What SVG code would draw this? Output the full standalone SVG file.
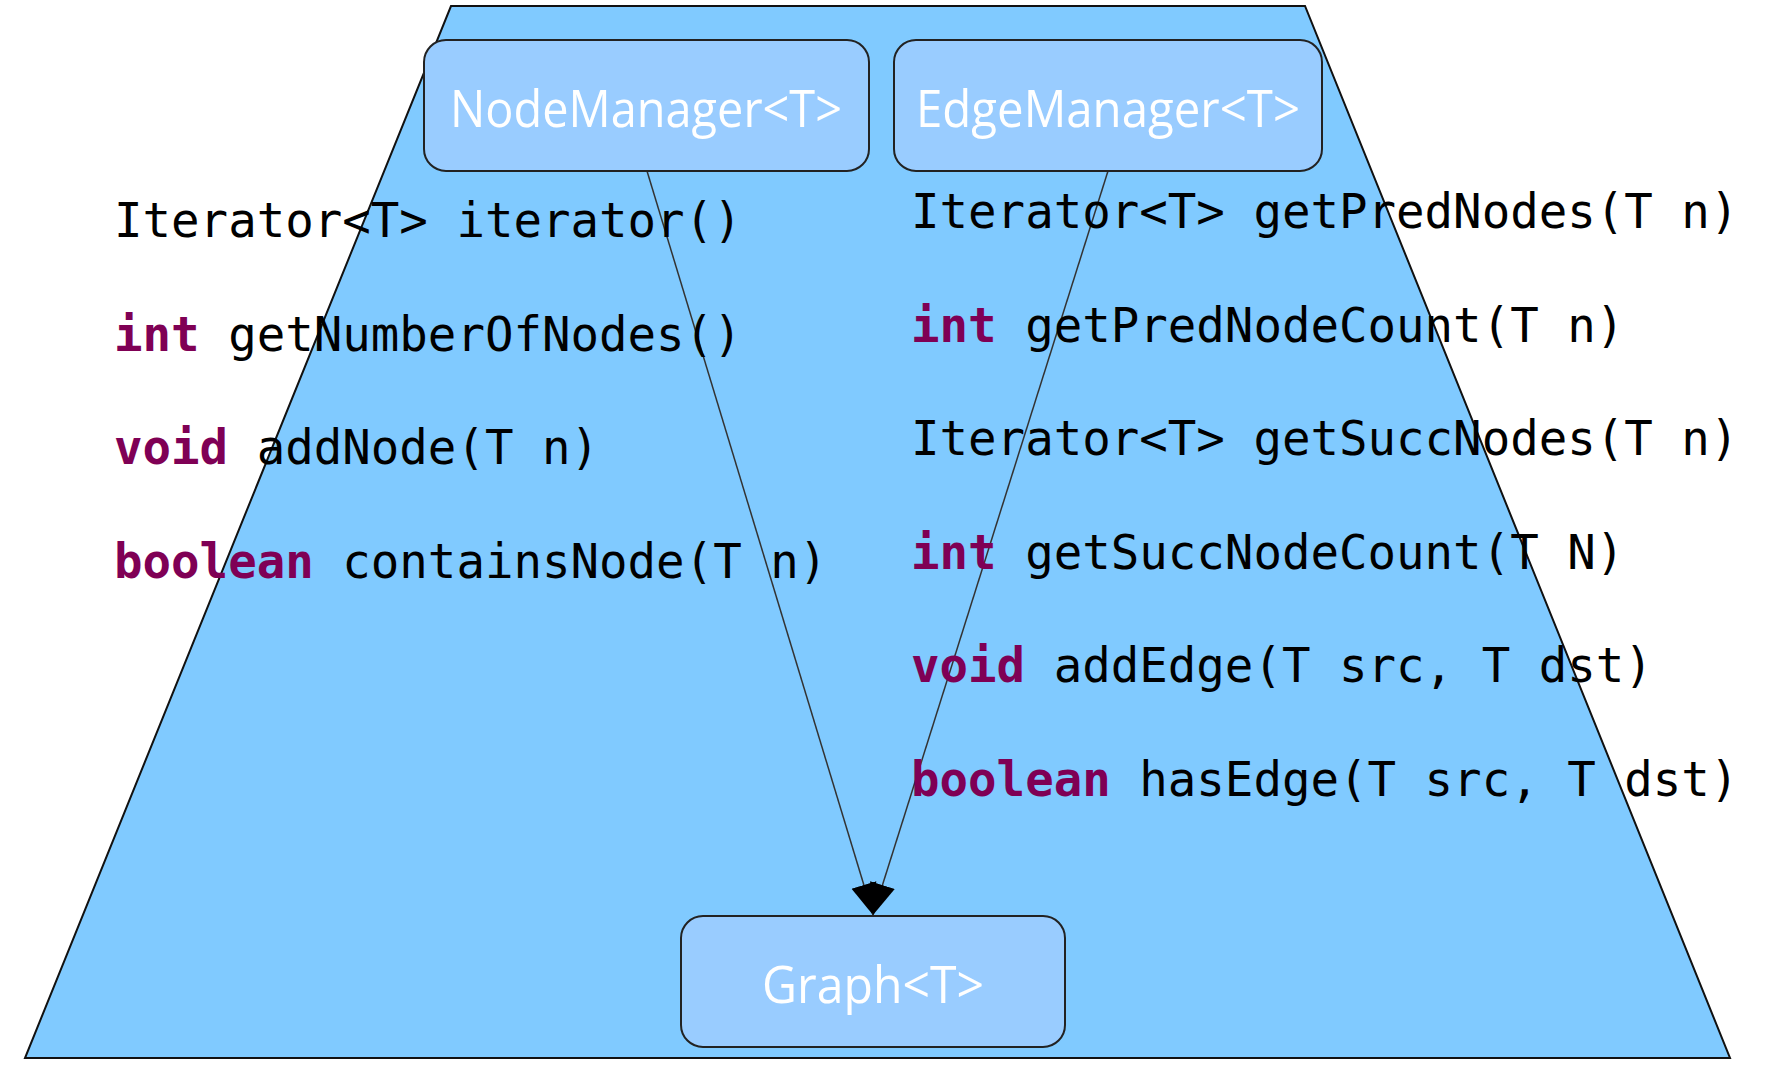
<svg xmlns="http://www.w3.org/2000/svg" width="1782" height="1076" viewBox="0 0 1782 1076">
<style>
.bg{fill:#80CAFF;stroke:#111;stroke-width:2}
.box{fill:#99CCFF;stroke:#222;stroke-width:2}
.lbl{font-family:"Open Sans","DejaVu Sans",sans-serif;font-size:52px;fill:#FFFFFF;text-anchor:middle}
.code{font-family:"DejaVu Sans Mono",monospace;font-size:47.4px;fill:#000000}
.kw{font-weight:bold;fill:#7F0055}
.edge{stroke:#333;stroke-width:1.5;fill:none}
</style>
<defs>
<marker id="arr" markerUnits="userSpaceOnUse" markerWidth="34" markerHeight="28" viewBox="0 -13 31 26" refX="29" refY="0" orient="auto">
<path d="M0,-12 L29,0 L0,12 z" fill="#000"/>
</marker>
</defs>
<polygon class="bg" points="451,6 1305,6 1730,1058 25,1058"/>
<g id="connectors">
<line class="edge" x1="647" y1="171" x2="873" y2="915" marker-end="url(#arr)"/>
<line class="edge" x1="1108" y1="171" x2="873" y2="915" marker-end="url(#arr)"/>
</g>
<g id="node-manager">
<rect class="box" x="424" y="40" width="445" height="131" rx="22"/>
<text class="lbl" x="646" y="127" textLength="392" lengthAdjust="spacingAndGlyphs">NodeManager&lt;T&gt;</text>
</g>
<g id="edge-manager">
<rect class="box" x="894" y="40" width="428" height="131" rx="22"/>
<text class="lbl" x="1108" y="127" textLength="384" lengthAdjust="spacingAndGlyphs">EdgeManager&lt;T&gt;</text>
</g>
<g id="graph">
<rect class="box" x="681" y="916" width="384" height="131" rx="22"/>
<text class="lbl" x="873" y="1003" textLength="222" lengthAdjust="spacingAndGlyphs">Graph&lt;T&gt;</text>
</g>
<g id="node-methods" class="code">
<text x="114" y="237">Iterator&lt;T&gt; iterator()</text>
<text x="114" y="351"><tspan class="kw">int</tspan> getNumberOfNodes()</text>
<text x="114" y="464"><tspan class="kw">void</tspan> addNode(T n)</text>
<text x="114" y="578"><tspan class="kw">boolean</tspan> containsNode(T n)</text>
</g>
<g id="edge-methods" class="code">
<text x="911" y="228">Iterator&lt;T&gt; getPredNodes(T n)</text>
<text x="911" y="342"><tspan class="kw">int</tspan> getPredNodeCount(T n)</text>
<text x="911" y="455">Iterator&lt;T&gt; getSuccNodes(T n)</text>
<text x="911" y="569"><tspan class="kw">int</tspan> getSuccNodeCount(T N)</text>
<text x="911" y="682"><tspan class="kw">void</tspan> addEdge(T src, T dst)</text>
<text x="911" y="796"><tspan class="kw">boolean</tspan> hasEdge(T src, T dst)</text>
</g>
</svg>
